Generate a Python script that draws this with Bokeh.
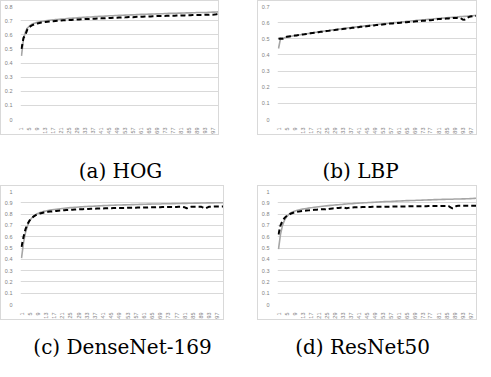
from bokeh.plotting import figure
from bokeh.layouts import column, row
from bokeh.models import Range1d, FixedTicker, Spacer, Label
from bokeh.embed import file_html
from bokeh.resources import INLINE

x_ticks = [1, 5, 9, 13, 17, 21, 25, 29, 33, 37, 41, 45, 49, 53, 57, 61, 65, 69, 73, 77, 81, 85, 89, 93, 97]
captions = ["(a) HOG", "(b) LBP", "(c) DenseNet-169", "(d) ResNet50"]
y_max = [0.8, 0.7, 1.0, 1.0]

hog_solid = [0.450, 0.570, 0.620, 0.648, 0.662, 0.672, 0.679, 0.684, 0.688, 0.691,
             0.694, 0.696, 0.698, 0.700, 0.702, 0.704, 0.705, 0.707, 0.708, 0.710,
             0.711, 0.712, 0.713, 0.715, 0.716, 0.717, 0.718, 0.719, 0.720, 0.721,
             0.722, 0.723, 0.724, 0.725, 0.726, 0.726, 0.727, 0.728, 0.729, 0.730,
             0.731, 0.731, 0.732, 0.733, 0.734, 0.734, 0.735, 0.736, 0.736, 0.737,
             0.738, 0.738, 0.739, 0.740, 0.740, 0.741, 0.741, 0.742, 0.743, 0.743,
             0.744, 0.744, 0.745, 0.745, 0.746, 0.746, 0.747, 0.747, 0.748, 0.748,
             0.749, 0.749, 0.750, 0.750, 0.751, 0.751, 0.752, 0.752, 0.752, 0.753,
             0.753, 0.754, 0.754, 0.755, 0.755, 0.755, 0.756, 0.756, 0.757, 0.757,
             0.757, 0.758, 0.758, 0.758, 0.759, 0.759, 0.760, 0.760, 0.761, 0.762]
hog_dashed = [0.500, 0.578, 0.600, 0.640, 0.655, 0.664, 0.671, 0.676, 0.680, 0.683,
              0.686, 0.688, 0.690, 0.692, 0.694, 0.695, 0.696, 0.698, 0.699, 0.700,
              0.701, 0.702, 0.703, 0.704, 0.704, 0.705, 0.706, 0.707, 0.708, 0.708,
              0.709, 0.710, 0.711, 0.711, 0.712, 0.713, 0.713, 0.714, 0.715, 0.715,
              0.716, 0.717, 0.717, 0.718, 0.719, 0.719, 0.720, 0.721, 0.721, 0.722,
              0.722, 0.723, 0.723, 0.724, 0.725, 0.725, 0.724, 0.726, 0.727, 0.727,
              0.728, 0.728, 0.729, 0.729, 0.730, 0.730, 0.731, 0.731, 0.732, 0.732,
              0.733, 0.733, 0.733, 0.734, 0.734, 0.735, 0.735, 0.735, 0.736, 0.736,
              0.737, 0.737, 0.737, 0.738, 0.738, 0.738, 0.739, 0.739, 0.739, 0.740,
              0.740, 0.740, 0.741, 0.741, 0.741, 0.742, 0.742, 0.743, 0.745, 0.748]
lbp_solid = [0.440, 0.500, 0.503, 0.506, 0.509, 0.512, 0.515, 0.517, 0.519, 0.521,
             0.523, 0.525, 0.527, 0.529, 0.531, 0.533, 0.535, 0.537, 0.539, 0.541,
             0.543, 0.544, 0.546, 0.548, 0.550, 0.551, 0.553, 0.555, 0.556, 0.558,
             0.560, 0.561, 0.563, 0.564, 0.566, 0.568, 0.569, 0.571, 0.572, 0.574,
             0.575, 0.577, 0.578, 0.580, 0.581, 0.583, 0.584, 0.585, 0.587, 0.588,
             0.590, 0.591, 0.592, 0.594, 0.595, 0.596, 0.598, 0.599, 0.600, 0.601,
             0.603, 0.604, 0.605, 0.606, 0.608, 0.609, 0.610, 0.611, 0.612, 0.614,
             0.615, 0.616, 0.617, 0.618, 0.619, 0.620, 0.621, 0.623, 0.624, 0.625,
             0.626, 0.627, 0.628, 0.629, 0.630, 0.631, 0.632, 0.633, 0.634, 0.635,
             0.636, 0.637, 0.638, 0.639, 0.640, 0.641, 0.642, 0.643, 0.644, 0.645]
lbp_dashed = [0.500, 0.502, 0.500, 0.507, 0.512, 0.514, 0.516, 0.518, 0.520, 0.521,
              0.523, 0.525, 0.527, 0.528, 0.530, 0.532, 0.534, 0.536, 0.538, 0.539,
              0.541, 0.543, 0.544, 0.546, 0.548, 0.549, 0.551, 0.553, 0.554, 0.556,
              0.557, 0.559, 0.560, 0.562, 0.563, 0.565, 0.566, 0.568, 0.569, 0.571,
              0.572, 0.574, 0.575, 0.576, 0.578, 0.579, 0.581, 0.582, 0.583, 0.585,
              0.586, 0.587, 0.589, 0.590, 0.591, 0.592, 0.594, 0.595, 0.596, 0.597,
              0.598, 0.599, 0.601, 0.602, 0.603, 0.604, 0.605, 0.606, 0.607, 0.608,
              0.609, 0.610, 0.611, 0.612, 0.613, 0.614, 0.615, 0.616, 0.618, 0.620,
              0.622, 0.623, 0.624, 0.624, 0.625, 0.626, 0.627, 0.628, 0.629, 0.629,
              0.630, 0.628, 0.620, 0.618, 0.625, 0.634, 0.638, 0.640, 0.641, 0.642]
dense_solid = [0.410, 0.550, 0.640, 0.700, 0.740, 0.765, 0.783, 0.796, 0.806, 0.813,
               0.819, 0.824, 0.828, 0.832, 0.835, 0.838, 0.841, 0.843, 0.845, 0.847,
               0.849, 0.851, 0.853, 0.855, 0.857, 0.858, 0.860, 0.861, 0.863, 0.864,
               0.865, 0.866, 0.867, 0.868, 0.869, 0.870, 0.871, 0.872, 0.873, 0.874,
               0.875, 0.876, 0.876, 0.877, 0.878, 0.878, 0.879, 0.880, 0.880, 0.881,
               0.882, 0.882, 0.883, 0.883, 0.884, 0.884, 0.885, 0.885, 0.886, 0.886,
               0.887, 0.887, 0.888, 0.888, 0.889, 0.889, 0.890, 0.890, 0.890, 0.891,
               0.891, 0.892, 0.892, 0.892, 0.893, 0.893, 0.894, 0.894, 0.894, 0.895,
               0.895, 0.895, 0.896, 0.896, 0.896, 0.897, 0.897, 0.897, 0.898, 0.898,
               0.898, 0.899, 0.899, 0.899, 0.899, 0.900, 0.900, 0.900, 0.900, 0.901]
dense_dashed = [0.510, 0.600, 0.670, 0.715, 0.745, 0.765, 0.780, 0.791, 0.799, 0.805,
                0.810, 0.814, 0.817, 0.820, 0.822, 0.824, 0.826, 0.828, 0.830, 0.831,
                0.833, 0.834, 0.836, 0.837, 0.838, 0.839, 0.840, 0.841, 0.842, 0.843,
                0.844, 0.845, 0.845, 0.846, 0.847, 0.847, 0.848, 0.849, 0.849, 0.850,
                0.850, 0.851, 0.851, 0.852, 0.852, 0.853, 0.853, 0.854, 0.854, 0.855,
                0.855, 0.855, 0.856, 0.856, 0.857, 0.857, 0.857, 0.858, 0.858, 0.858,
                0.859, 0.859, 0.859, 0.860, 0.860, 0.860, 0.861, 0.861, 0.861, 0.862,
                0.862, 0.862, 0.862, 0.863, 0.863, 0.863, 0.863, 0.864, 0.864, 0.864,
                0.860, 0.852, 0.860, 0.864, 0.865, 0.865, 0.865, 0.865, 0.866, 0.858,
                0.850, 0.858, 0.866, 0.866, 0.866, 0.867, 0.867, 0.867, 0.867, 0.868]
resnet_solid = [0.490, 0.620, 0.700, 0.745, 0.775, 0.795, 0.808, 0.818, 0.825, 0.831,
                0.836, 0.840, 0.844, 0.847, 0.850, 0.853, 0.856, 0.858, 0.861, 0.863,
                0.865, 0.867, 0.869, 0.871, 0.873, 0.875, 0.877, 0.878, 0.880, 0.882,
                0.883, 0.885, 0.886, 0.888, 0.889, 0.891, 0.892, 0.893, 0.895, 0.896,
                0.897, 0.898, 0.899, 0.900, 0.901, 0.902, 0.903, 0.904, 0.905, 0.906,
                0.907, 0.908, 0.909, 0.910, 0.911, 0.912, 0.912, 0.913, 0.914, 0.915,
                0.916, 0.916, 0.917, 0.918, 0.919, 0.919, 0.920, 0.921, 0.921, 0.922,
                0.923, 0.923, 0.924, 0.925, 0.925, 0.926, 0.926, 0.927, 0.928, 0.928,
                0.929, 0.929, 0.930, 0.930, 0.931, 0.931, 0.932, 0.932, 0.933, 0.933,
                0.934, 0.934, 0.935, 0.935, 0.936, 0.936, 0.937, 0.938, 0.939, 0.940]
resnet_dashed = [0.620, 0.700, 0.740, 0.765, 0.782, 0.794, 0.803, 0.810, 0.815, 0.819,
                 0.822, 0.825, 0.827, 0.829, 0.831, 0.833, 0.835, 0.836, 0.838, 0.839,
                 0.840, 0.842, 0.843, 0.844, 0.838, 0.845, 0.848, 0.850, 0.852, 0.853,
                 0.855, 0.857, 0.858, 0.856, 0.852, 0.855, 0.858, 0.859, 0.860, 0.860,
                 0.861, 0.861, 0.862, 0.862, 0.863, 0.863, 0.863, 0.864, 0.864, 0.864,
                 0.865, 0.865, 0.865, 0.866, 0.866, 0.866, 0.866, 0.867, 0.867, 0.867,
                 0.867, 0.868, 0.868, 0.868, 0.868, 0.869, 0.869, 0.869, 0.869, 0.869,
                 0.870, 0.870, 0.870, 0.870, 0.870, 0.871, 0.871, 0.871, 0.871, 0.871,
                 0.871, 0.872, 0.872, 0.872, 0.872, 0.872, 0.860, 0.852, 0.860, 0.872,
                 0.873, 0.873, 0.873, 0.873, 0.873, 0.873, 0.874, 0.874, 0.874, 0.874]

solid_series = [hog_solid, lbp_solid, dense_solid, resnet_solid]
dashed_series = [hog_dashed, lbp_dashed, dense_dashed, resnet_dashed]

# layout (pixels)
box_w = [221, 222, 226, 222]
box_h = 137
border_left = [15, 10, 15, 17]


def make_panel(i):
    n = len(solid_series[i])
    xs = list(range(1, n + 1))
    top = y_max[i]
    yt = [round(k * 0.1, 1) for k in range(int(round(top * 10)) + 1)]
    p = figure(width=box_w[i] - 2, height=box_h - 2, toolbar_location=None,
               output_backend="svg", x_range=Range1d(0.5, n + 0.5),
               y_range=Range1d(0, top),
               min_border_left=border_left[i] - 1, min_border_right=1,
               min_border_top=5, min_border_bottom=13,
               background_fill_color="white", border_fill_color="white",
               styles={"border": "1px solid #d9d9d9"})
    p.outline_line_color = None
    p.xgrid.grid_line_color = None
    p.ygrid.grid_line_color = "#d9d9d9"
    p.ygrid.grid_line_width = 1
    p.yaxis.ticker = FixedTicker(ticks=yt)
    p.xaxis.ticker = FixedTicker(ticks=x_ticks)
    overrides = {0: "0"}
    if top == 1.0:
        overrides[1] = "1"
    p.yaxis.major_label_overrides = overrides
    for ax in (p.xaxis[0], p.yaxis[0]):
        ax.axis_line_color = None
        ax.major_tick_line_color = None
        ax.minor_tick_line_color = None
        ax.major_label_text_font = "Liberation Sans"
        ax.major_label_text_font_size = "5.5px"
        ax.major_label_text_color = "#7f7f7f"
        ax.major_label_standoff = 2
    p.xaxis.major_label_orientation = 3.14159 / 2
    p.line(xs, solid_series[i], line_color="#a6a6a6", line_width=1.6)
    p.line(xs, dashed_series[i], line_color="black", line_width=2, line_dash="5 3")
    return p


def make_caption(labels, centers, h, baseline):
    c = figure(width=483, height=h, toolbar_location=None, output_backend="svg",
               x_range=Range1d(0, 483), y_range=Range1d(0, h),
               min_border=0, outline_line_color=None)
    c.axis.visible = False
    c.grid.visible = False
    for lab, cx in zip(labels, centers):
        c.add_layout(Label(x=cx, y=h - baseline, x_units="screen", y_units="screen",
                           text=lab, text_align="center", text_baseline="alphabetic",
                           text_font="DejaVu Serif", text_font_size="20px",
                           text_color="black"))
    return c


pa, pb, pc, pd = [make_panel(i) for i in range(4)]
row1 = row(pa, Spacer(width=38), pb)
cap1 = make_caption(captions[:2], [120, 360], 50, 35)
row2 = row(pc, Spacer(width=33), pd)
cap2 = make_caption(captions[2:], [122, 362], 37, 26)
layout = column(row1, cap1, row2, cap2, spacing=0)

open("out.html", "w").write(file_html(layout, INLINE))
